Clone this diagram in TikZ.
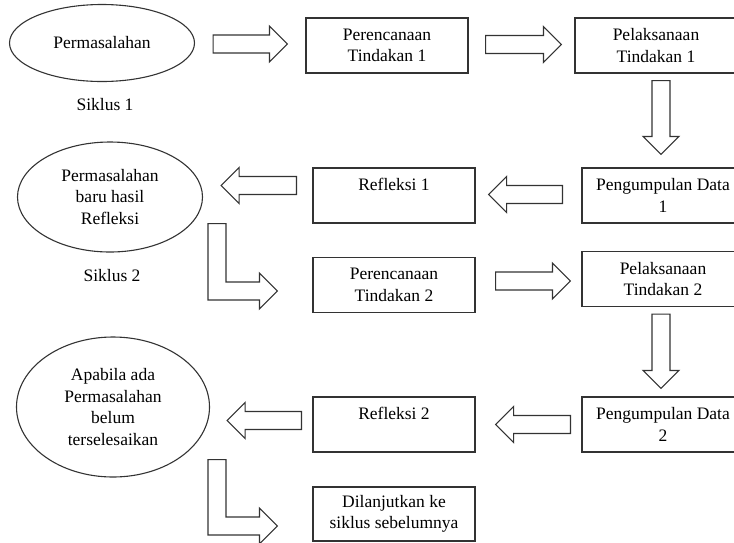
\documentclass[tikz,border=0pt]{standalone}
\usepackage{fontspec}
\setmainfont{Liberation Serif}
\usepackage{tikz}
\usetikzlibrary{shapes.geometric}
\usetikzlibrary{calc}
\tikzstyle{kotak} = [rectangle, minimum width=162pt, minimum height=55pt, text centered, align=center, draw=black!80, line width=1.1pt, inner sep=2pt]
\tikzstyle{elips} = [ellipse, align=center, draw=black!80, line width=1.1pt, inner sep=0pt]
\tikzstyle{panah} = [draw=black!80, line width=1.1pt, fill=white, line join=miter]

% block arrows: start point, tip point
\newcommand{\panahdatar}[2]{%
  \draw[panah] let \p1=(#1), \p2=(#2), \n1={18pt*sign((\x2)-(\x1))} in
    (\x1,\y1+9pt) -- ({\x2-(\n1)},\y1+9pt) -- ({\x2-(\n1)},\y1+18pt) -- (\x2,\y1)
    -- ({\x2-(\n1)},\y1-18pt) -- ({\x2-(\n1)},\y1-9pt) -- (\x1,\y1-9pt) -- cycle;}
\newcommand{\panahturun}[2]{%
  \draw[panah] let \p1=(#1), \p2=(#2) in
    (\x1-9pt,\y1) -- (\x1-9pt,\y2+18pt) -- (\x1-18pt,\y2+18pt) -- (\x1,\y2)
    -- (\x1+18pt,\y2+18pt) -- (\x1+9pt,\y2+18pt) -- (\x1+9pt,\y1) -- cycle;}
\newcommand{\panahbelok}[2]{%
  \draw[panah] let \p1=(#1), \p2=(#2) in
    (\x1-9pt,\y1) -- (\x1-9pt,\y2-9pt) -- (\x2-18pt,\y2-9pt) -- (\x2-18pt,\y2-18pt) -- (\x2,\y2)
    -- (\x2-18pt,\y2+18pt) -- (\x2-18pt,\y2+9pt) -- (\x1+9pt,\y2+9pt) -- (\x1+9pt,\y1) -- cycle;}

\begin{document}
\begin{tikzpicture}[x=1pt, y=-1pt, font=\fontsize{17.5}{21.5}\selectfont]

  \useasboundingbox (0,0) rectangle (734,542);
  \clip (0,0) rectangle (734,542);

  % Siklus 1
  \node[elips, minimum width=185pt, minimum height=77pt] (e1) at (102,43) {Permasalahan};
  \node (s1) at (105,105) {Siklus 1};
  \node[kotak] (p1) at (387,45.5) {Perencanaan\\Tindakan 1};
  \node[kotak] (l1) at (656,45.5) {Pelaksanaan\\Tindakan 1};
  \node[kotak] (g1) at (663,195.5) {Pengumpulan Data\\1};
  \node[kotak] (r1) at (394,195.5) {Refleksi 1\\~};

  \panahdatar{$(e1.east)+(18,1)$}{$(p1.west)+(-18,0)$}
  \panahdatar{$(p1.east)+(17,-1)$}{$(l1.west)+(-13,0)$}
  \panahturun{$(l1.south)+(5,7)$}{$(g1.north)+(0,-13)$}
  \panahdatar{$(g1.west)+(-19,-1)$}{$(r1.east)+(13,0)$}

  % Siklus 2
  \node[elips, minimum width=185pt, minimum height=110pt] (e2) at (110,197) {Permasalahan\\baru hasil\\Refleksi};
  \node (s2) at (112,276) {Siklus 2};
  \node[kotak] (p2) at (394,285) {Perencanaan\\Tindakan 2};
  \node[kotak] (l2) at (663,279) {Pelaksanaan\\Tindakan 2};
  \node[kotak] (g2) at (663,424.5) {Pengumpulan Data\\2};
  \node[kotak] (r2) at (394,424.5) {Refleksi 2\\~};

  \panahdatar{$(r1.west)+(-16,-10)$}{$(e2.east)+(18,0)$}
  \panahbelok{$(e2.south)+(107,-29)$}{$(p2.west)+(-35,6)$}
  \panahdatar{$(p2.east)+(20,-4)$}{$(l2.west)+(-11,0)$}
  \panahturun{$(l2.south)+(-2,7)$}{$(g2.north)+(0,-8)$}
  \panahdatar{$(g2.west)+(-11,0)$}{$(r2.east)+(20,0)$}

  % lanjut
  \node[elips, minimum width=193pt, minimum height=140pt] (e3) at (113,407) {Apabila ada\\Permasalahan\\belum\\terselesaikan};
  \node[kotak, minimum height=54pt] (d) at (394,514) {Dilanjutkan ke\\siklus sebelumnya};

  \panahdatar{$(r2.west)+(-11,-4)$}{$(e3.east)+(17,0)$}
  \panahbelok{$(e3.south)+(104,-18)$}{$(d.west)+(-35,12)$}

\end{tikzpicture}
\end{document}
